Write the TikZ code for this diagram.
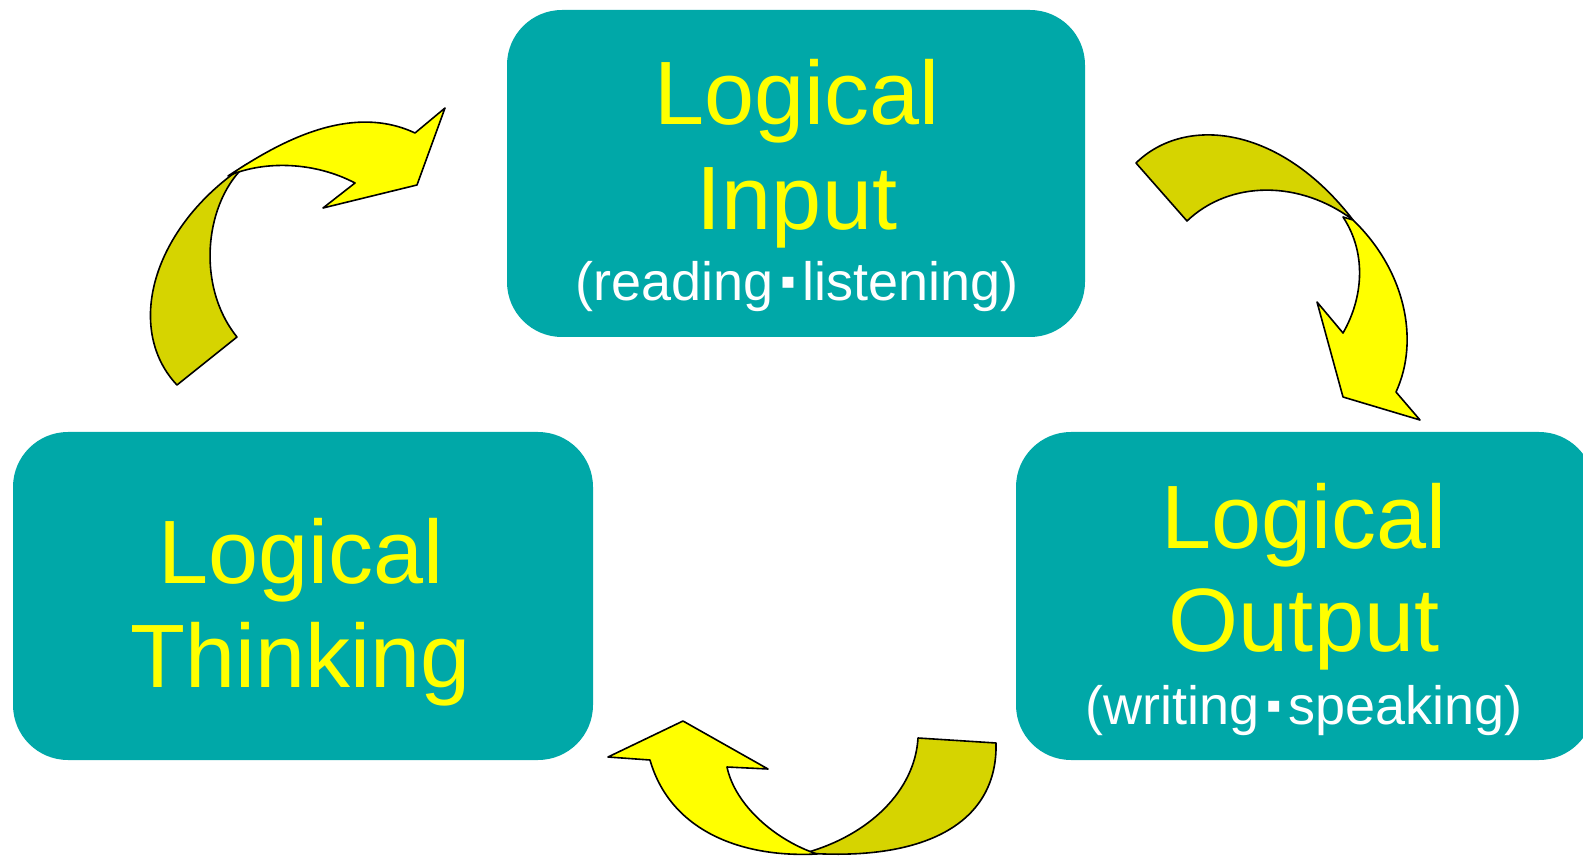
\documentclass[tikz,border=0pt]{standalone}
\usepackage{fontspec}
\setmainfont{Liberation Sans}
\newfontfamily\symfont{DejaVu Sans}
\definecolor{boxteal}{HTML}{00A8A8}
\definecolor{darkyel}{HTML}{D6D400}
\definecolor{liteyel}{HTML}{FFFF00}
\newcommand{\sepmark}{\hspace{7pt}\raisebox{12pt}{\symfont\fontsize{22}{22}\selectfont ▪}\hspace{7pt}}
\tikzset{
  box/.style={fill=boxteal, rounded corners=55pt, draw=none, inner sep=0pt},
  big/.style={text=liteyel, font=\fontsize{90}{90}\selectfont, anchor=base, inner sep=0pt},
  small/.style={text=white, font=\fontsize{54}{54}\selectfont, anchor=base, inner sep=0pt},
  darkpart/.style={fill=darkyel, draw=black, line width=1.6pt, line join=round},
  litepart/.style={fill=liteyel, draw=black, line width=1.6pt, line join=round}
}
\begin{document}
\begin{tikzpicture}[x=1pt,y=-1pt]
\useasboundingbox (0,0) rectangle (1583,858);
\clip (0,0) rectangle (1583,858);
% boxes
\node[box, minimum width=578pt, minimum height=327pt] (inbox) at (796,173.5) {};
\node[box, minimum width=580pt, minimum height=328pt] (thbox) at (303,596) {};
\node[box, minimum width=578pt, minimum height=328pt] (outbox) at (1305,596) {};
% texts
\node[big] (in1) at (797,125) {Logical};
\node[big] (in2) at (797,230) {Input};
\node[small] (in3) at (797,301) {(reading\sepmark listening)};
\node[big] (th1) at (301,583) {Logical};
\node[big] (th2) at (301,687) {Thinking};
\node[big] (out1) at (1304,548) {Logical};
\node[big] (out2) at (1304,651) {Output};
\node[small] (out3) at (1304,724) {(writing\sepmark speaking)};
% arrow 1 (top left)
\draw[darkpart] (177,385) .. controls (125,330) and (150,228) .. (247,164)
  .. controls (205,200) and (195,285) .. (237,337) -- cycle;
\draw[litepart] (228,176) .. controls (268,150) and (345,100) .. (415,133)
  -- (445,108) -- (417,185) -- (323,208) -- (355,183)
  .. controls (315,162) and (265,160) .. cycle;
% arrow 2 (top right)
\draw[darkpart] (1136,163) .. controls (1185,115) and (1280,125) .. (1353,220)
  .. controls (1300,180) and (1230,180) .. (1187,221) -- cycle;
\draw[litepart] (1343,217) .. controls (1368,255) and (1362,300) .. (1343,333)
  -- (1317,302) -- (1343,397) -- (1420,420) -- (1396,392)
  .. controls (1420,340) and (1405,270) .. (1353,220) -- cycle;
% arrow 3 (bottom)
\draw[darkpart] (918,738) -- (996,743) .. controls (998,820) and (930,862) .. (805,853)
  .. controls (870,835) and (915,790) .. (918,738) -- cycle;
\draw[litepart] (727,767) -- (768,769) -- (683,721) -- (608,757) -- (650,760)
  .. controls (670,830) and (740,858) .. (817,854)
  .. controls (775,840) and (735,805) .. (727,767) -- cycle;
\end{tikzpicture}
\end{document}
